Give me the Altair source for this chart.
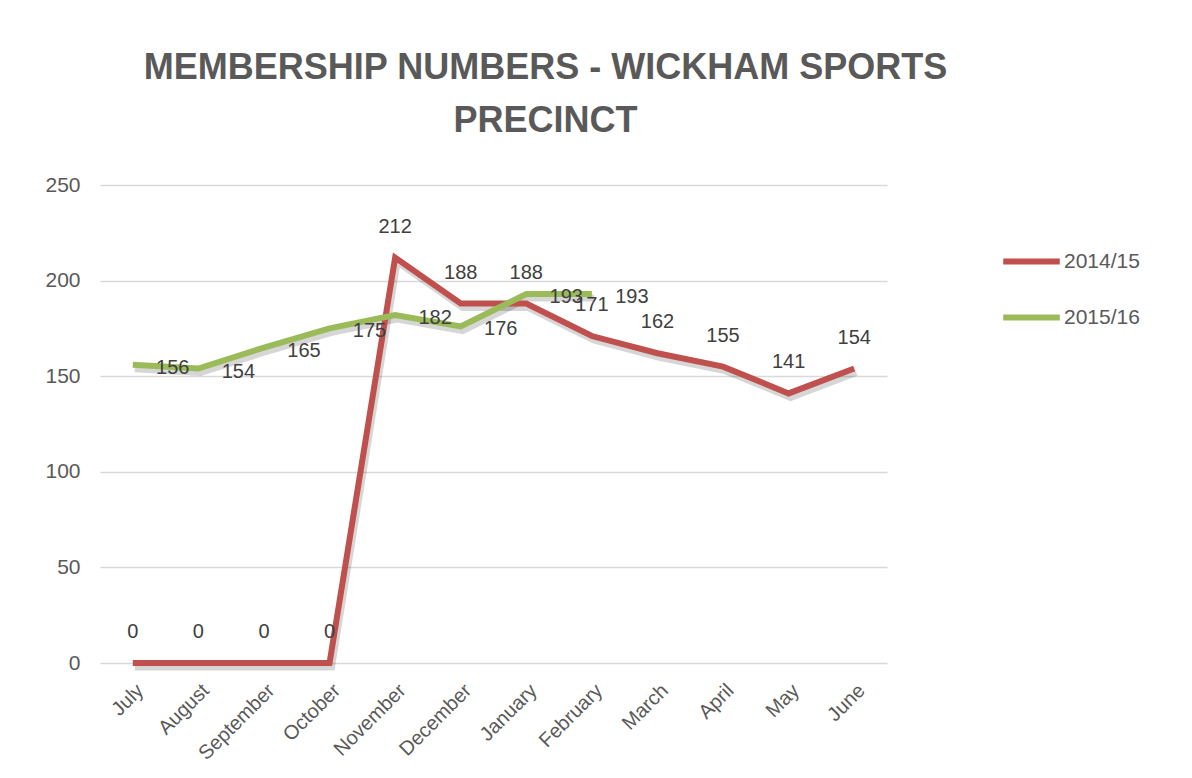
import altair as alt
import pandas as pd

months = ["July", "August", "September", "October", "November", "December",
          "January", "February", "March", "April", "May", "June"]
series_names = ["2014/15", "2015/16"]
values_2014 = [0, 0, 0, 0, 212, 188, 188, 171, 162, 155, 141, 154]
values_2015 = [156, 154, 165, 175, 182, 176, 193, 193]
y_ticks = [0, 50, 100, 150, 200, 250]
colors = ["#C0504D", "#9BBB59"]

rows = []
for m, v in zip(months, values_2014):
    rows.append({"Month": m, "Members": v, "Season": series_names[0]})
for m, v in zip(months, values_2015):
    rows.append({"Month": m, "Members": v, "Season": series_names[1]})
df = pd.DataFrame(rows)

FONT = "Liberation Sans"

x_enc = alt.X("Month:N", sort=months, title=None,
              scale=alt.Scale(paddingInner=0, paddingOuter=0.5),
              axis=alt.Axis(labelAngle=-45, labelFontSize=20, labelColor="#595959",
                            labelFont=FONT, domain=False, ticks=False,
                            labelPadding=17, grid=False))
y_enc = alt.Y("Members:Q", title=None,
              scale=alt.Scale(domain=[0, 250]),
              axis=alt.Axis(values=y_ticks, labelFontSize=21, labelColor="#595959",
                            labelFont=FONT, domain=False, ticks=False,
                            labelPadding=20, grid=True, gridColor="#D9D9D9",
                            gridWidth=1.5))
color_enc = alt.Color("Season:N", scale=alt.Scale(domain=series_names, range=colors),
                      legend=alt.Legend(title=None, orient="none", legendX=900, legendY=45,
                                        symbolType="stroke", symbolSize=3200,
                                        symbolStrokeWidth=6, labelFontSize=21,
                                        labelColor="#595959", labelFont=FONT,
                                        rowPadding=12, labelOffset=1))

base = alt.Chart(df)

shadow = base.mark_line(strokeWidth=7, color="#000000", opacity=0.16, yOffset=4, xOffset=2,
                        strokeJoin="miter").encode(
    x=x_enc, y=y_enc, detail="Season:N")
lines = base.mark_line(strokeWidth=6, strokeJoin="miter").encode(
    x=x_enc, y=y_enc, color=color_enc)

red_labels = base.transform_filter(alt.datum.Season == series_names[0]).mark_text(
    dy=-31, fontSize=20, color="#404040", font=FONT).encode(
    x=x_enc, y=y_enc, text="Members:Q")
green_labels = base.transform_filter(alt.datum.Season == series_names[1]).mark_text(
    dx=40, dy=3, fontSize=20, color="#404040", font=FONT).encode(
    x=x_enc, y=y_enc, text="Members:Q")

chart = alt.layer(shadow, lines, red_labels, green_labels).properties(
    width=787, height=478,
    background="white",
    title=alt.TitleParams(["MEMBERSHIP NUMBERS - WICKHAM SPORTS", "PRECINCT"],
                          fontSize=36, font=FONT, fontWeight="bold",
                          color="#595959", lineHeight=53, anchor="middle", dx=52,
                          offset=34),
    autosize=alt.AutoSizeParams(type="none"),
    padding={"left": 92, "top": 177, "right": 297, "bottom": 100},
).configure_view(stroke=None)

chart.save("out.html", embed_options={"renderer": "svg", "actions": False})
